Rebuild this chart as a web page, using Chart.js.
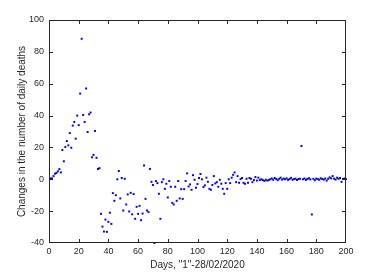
<!DOCTYPE html>
<html>
<head>
<meta charset="utf-8">
<script src="https://cdn.jsdelivr.net/npm/chart.js@4"></script>
<style>
  html, body { margin: 0; padding: 0; background: #fff; }
  #wrap { width: 382px; height: 273px; }
</style>
</head>
<body>
<div id="wrap"><canvas id="dataChart" width="382" height="273"></canvas></div>
<script>
// day index 1..200 and change in daily deaths
let days = [];
for (let d = 1; d <= 200; d++) days.push(d);

let changes = [
    0.6, 0.5, 2, 3.5, 4, 5, 6.4, 4.3, 18.4, 11.3,
    20.3, 24, 21.3, 29, 19.8, 33.7, 36, 25.5, 40, 34,
    53.8, 88.2, 40.4, 36, 57, 29.7, 40.8, 41.9, 13.8, 15.3,
    30.3, 13.5, 6.4, 7, -21.7, -29.7, -32.8, -25.3, -33, -26.7,
    -21, -28, -8.7, -13.5, -10, 0, 5.2, -12, 0.8, -19.6,
    0.3, -15.8, -9.5, -20.2, -8.5, -22, -9.3, -24.8, -17.3, -21.7,
    -16.7, -25.7, -21.5, 8.7, -12.3, -19.6, -20.6, 6.5, -1.6, -3.6,
    -40, -1.1, -2.4, -9.1, -24.8, -1.8, 0, -6, -2.8, -11.4,
    -1.1, -4.7, -14.8, -15.8, -4.7, -13.5, -1.1, -12, -6.2, -12.3,
    -6.2, -1.1, 3.7, -4.5, -3.2, -6.6, 2.6, -0.3, -5.3, -3,
    0.8, 3.3, 0, -4.9, -3.8, 1, -1.6, -6, -6.6, -3.6,
    2, -2.6, -1.8, -4.7, -0.3, -2.8, -6, -9.1, -2.4, -6,
    0, -2.4, 1, 2.8, 4.3, -1.8, 2, -2.2, 0.1, 0.8,
    -2.2, -2.8, 0.3, -2.2, 0.8, 0.3, -1.8, -0.5, 1.4, -0.8,
    1, -0.5, 0, -0.5, -1, -0.3, -0.8, -0.5, 0, 0.5,
    -0.3, 0.8, 0.2, -0.6, 0.3, 1, -0.2, 0.4, 0, 0.6,
    -0.4, 0.2, 0.9, -0.3, 0.1, 0.4, -0.5, 0.2, 0.3, 20.9,
    0, 0.5, -0.4, 0.2, 0.7, -0.1, -22.1, 0.3, -0.6, 0.4,
    0.1, -0.3, 0.6, 0.2, -0.2, 0.5, -0.8, 0.3, 1.2, 0.6,
    2, 0.4, -0.2, 1, 0.3, 0.8, -1.6, 0.2, 0.5, 0.1
];

let xTicks = [0, 20, 40, 60, 80, 100, 120, 140, 160, 180, 200];
let yTicks = [-40, -20, 0, 20, 40, 60, 80, 100];

let axisColor = '#262626';
let fontFamily = '"Liberation Sans", Arial, sans-serif';

// MATLAB style box with inward ticks on all four sides
let boxTicks = {
    id: 'boxTicks',
    afterDraw(chart) {
        let c = chart.ctx;
        let a = chart.chartArea;
        let xs = chart.scales.x, ys = chart.scales.y;
        let len = 3;
        let l = Math.round(a.left), r = Math.round(a.right), t = Math.round(a.top), b = Math.round(a.bottom);
        c.save();
        c.fillStyle = axisColor;
        c.fillRect(l, t, r - l, 1);       // top
        c.fillRect(l, b - 1, r - l, 1);   // bottom
        c.fillRect(l, t, 1, b - t);       // left
        c.fillRect(r - 1, t, 1, b - t);   // right
        xTicks.forEach(v => {
            let px = Math.round(xs.getPixelForValue(v));
            if (v === 200) px -= 1;
            c.fillRect(px, b - 1 - len, 1, len);
            c.fillRect(px, t + 1, 1, len);
        });
        yTicks.forEach(v => {
            let py = Math.round(ys.getPixelForValue(v));
            if (v === -40) py -= 1;
            c.fillRect(l + 1, py, len, 1);
            c.fillRect(r - 1 - len, py, len, 1);
        });
        c.restore();
    }
};

let ctx = document.getElementById('dataChart').getContext('2d');
let chart = new Chart(ctx, {
    type: 'scatter',
    data: {
        datasets: [{
            data: days.map((d, i) => ({ x: d, y: changes[i] })),
            backgroundColor: '#0000ff',
            borderColor: '#0000ff',
            borderWidth: 0,
            pointRadius: 1.4,
            pointStyle: 'rect',
            clip: false
        }]
    },
    options: {
        responsive: false,
        animation: false,
        layout: { padding: { left: 0, top: 20, right: 36, bottom: 0 } },
        plugins: {
            legend: { display: false },
            tooltip: { enabled: false }
        },
        scales: {
            x: {
                type: 'linear',
                min: 0,
                max: 200,
                afterBuildTicks: s => { s.ticks = xTicks.map(v => ({ value: v })); },
                afterFit: s => { s.height = 30; },
                grid: { drawOnChartArea: false, drawTicks: false },
                border: { display: false },
                ticks: { color: axisColor, padding: 3, font: { family: fontFamily, size: 9 } },
                title: {
                    display: true,
                    text: 'Days, "1"-28/02/2020',
                    color: axisColor,
                    padding: { top: 0, bottom: 2 },
                    font: { family: fontFamily, size: 10 }
                }
            },
            y: {
                min: -40,
                max: 100,
                afterBuildTicks: s => { s.ticks = yTicks.map(v => ({ value: v })); },
                afterFit: s => { s.width = 49; },
                grid: { drawOnChartArea: false, drawTicks: false },
                border: { display: false },
                ticks: { color: axisColor, padding: 5, font: { family: fontFamily, size: 9 } },
                title: {
                    display: true,
                    text: 'Changes in the number of daily deaths',
                    color: axisColor,
                    padding: { top: 16, bottom: 0 },
                    font: { family: fontFamily, size: 10 }
                }
            }
        }
    },
    plugins: [boxTicks]
});
</script>
</body>
</html>
